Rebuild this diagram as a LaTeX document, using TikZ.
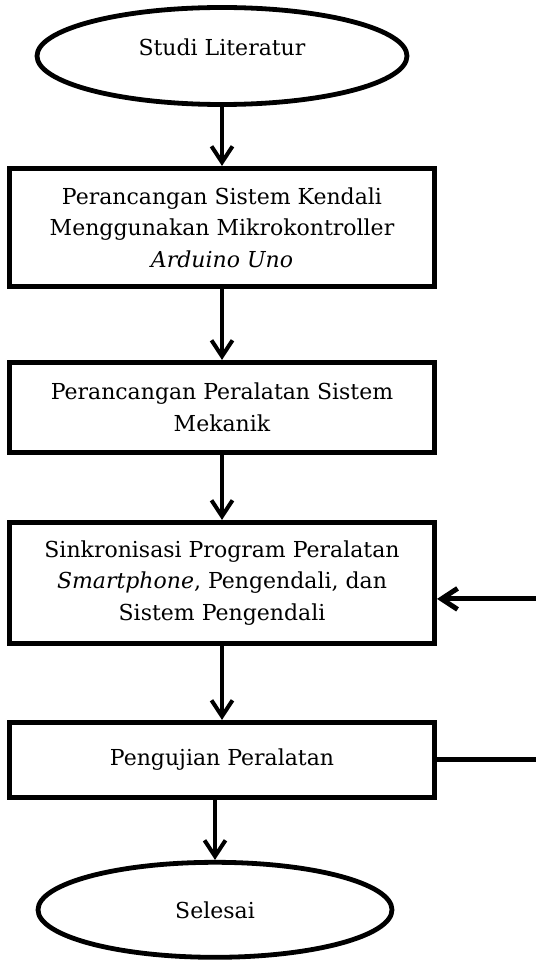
\documentclass[tikz,border=0pt]{standalone}
\usepackage{fontspec}
\setmainfont{DejaVu Serif}
\usetikzlibrary{arrows.meta,positioning,shapes.geometric}

\begin{document}
\begin{tikzpicture}[node distance=60pt,
    font=\fontsize{22}{31.5}\selectfont,
    terminal/.style={draw, ellipse, line width=4.8pt, inner sep=0pt},
    stepbox/.style={draw, rectangle, line width=5pt, align=center, minimum width=425pt},
    flow/.style={-{Straight Barb[length=16pt,width=21pt]}, line width=4pt}]
    \useasboundingbox (0,0) rectangle (535pt,-960pt);
    % Terminals and steps
    \node[terminal, minimum width=370pt, minimum height=97pt, text height=16pt, text depth=16pt] (mulai) at (222pt,-56pt) {Studi Literatur};
    \node[stepbox, minimum height=118pt, below=59pt of mulai] (kendali) {Perancangan Sistem Kendali\\Menggunakan Mikrokontroller\\\textit{Arduino Uno}};
    \node[stepbox, minimum height=90pt, below=71pt of kendali] (mekanik) {Perancangan Peralatan Sistem\\Mekanik};
    \node[stepbox, minimum height=121pt, below=65pt of mekanik] (sinkron) {Sinkronisasi Program Peralatan\\\textit{Smartphone}, Pengendali, dan\\Sistem Pengendali};
    \node[stepbox, minimum height=75pt, below=74pt of sinkron] (uji) {Pengujian Peralatan};
    \node[terminal, minimum width=354pt, minimum height=95pt, below=60pt of uji, xshift=-7pt] (selesai) {Selesai};
    % Arrows
    \draw[flow] (mulai) -- (kendali);
    \draw[flow] (kendali) -- (mekanik);
    \draw[flow] (mekanik) -- (sinkron);
    \draw[flow] (sinkron) -- (uji);
    \draw[flow] (uji.south -| selesai.north) -- (selesai.north);
    % Feedback loop
    \coordinate[right=103pt of uji] (balik);
    \draw[flow, line width=5pt] (uji.east) -- (balik) |- ([yshift=-16pt]sinkron.east);
\end{tikzpicture}
\end{document}
